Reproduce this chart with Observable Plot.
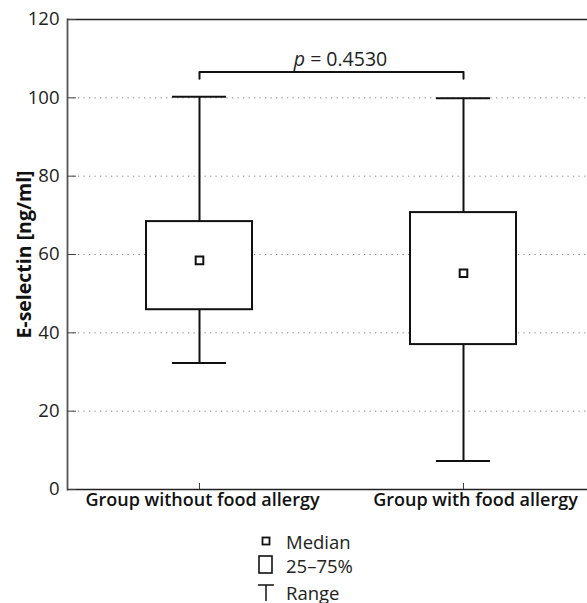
<!DOCTYPE html>
<html>
<head>
<meta charset="utf-8">
<script src="https://cdn.jsdelivr.net/npm/d3@7"></script>
<script src="https://cdn.jsdelivr.net/npm/@observablehq/plot@0.6"></script>
<style>
  html, body { margin: 0; padding: 0; background: #fff; }
  #chart { width: 587px; }
  #legend { position: relative; height: 81px; font-family: "Open Sans", sans-serif; font-size: 18.5px; color: #222; }
  .item { position: absolute; left: 0; display: flex; align-items: center; height: 24px; }
  .item svg { position: absolute; left: 256px; }
  .item span { position: absolute; left: 286px; white-space: nowrap; }
</style>
</head>
<body>
<div id="chart"></div>
<div id="legend"></div>
<script>
// ---- data ----
const groups = ["Group without food allergy", "Group with food allergy"];
const minVals = [32.3, 7.3];
const q1Vals = [45.9, 37.0];
const medianVals = [58.5, 55.2];
const q3Vals = [68.4, 70.7];
const maxVals = [100.3, 99.9];
const yTicks = [0, 20, 40, 60, 80, 100, 120];
const gridTicks = [20, 40, 60, 80, 100];
const bracketX = [groups[0], groups[0], groups[1], groups[1]];
const bracketY = [104.9, 106.6, 106.6, 104.9];
const pLabel = "p = 0.4530";
const pLabelY = 111.6;
const legendLabels = ["Median", "25–75%", "Range"];

const data = groups.map((g, i) => ({
  group: g, min: minVals[i], q1: q1Vals[i], median: medianVals[i], q3: q3Vals[i], max: maxVals[i]
}));
const bracket = bracketX.map((x, i) => ({x, y: bracketY[i]}));

const W = 587, H = 522;
const font = "Open Sans, sans-serif";

const plot = Plot.plot({
  width: W,
  height: H,
  marginLeft: 67,
  marginRight: 0,
  marginTop: 19,
  marginBottom: 33,
  style: {fontFamily: font, fontSize: "18px", color: "#222", background: "white", overflow: "visible"},
  x: {domain: groups, range: [67, 595], paddingInner: 0.6, paddingOuter: 0.3, align: 0.5, label: null, axis: null},
  y: {domain: [0, 120], label: null, axis: null},
  marks: [
    Plot.gridY(gridTicks, {stroke: "#888", strokeOpacity: 1, strokeDasharray: "1.3,4.2", strokeWidth: 1}),
    Plot.ruleY([120], {stroke: "#222", strokeWidth: 1.6}),
    Plot.ruleY([0], {stroke: "#222", strokeWidth: 1.6}),
    Plot.frame({anchor: "left", stroke: "#555", strokeWidth: 1.8}),
    Plot.text(yTicks, {y: d => d, frameAnchor: "left", textAnchor: "end", dx: -8, text: d => String(d), fontSize: "18.5px", fill: "#222"}),
    Plot.axisY(yTicks, {tickSize: -9, text: null, label: null, stroke: "#444"}),
    Plot.axisX({tickSize: -6, text: null, label: null, stroke: "#444"}),
    Plot.text([groups[0]], {frameAnchor: "bottom", text: d => d, x: d => d, dy: 16, dx: 3, fontWeight: 600, fontSize: "18px", fill: "#111"}),
    Plot.text([groups[1]], {frameAnchor: "bottom", text: d => d, x: d => d, dy: 16, dx: 12, fontWeight: 600, fontSize: "18px", fill: "#111"}),
    Plot.text(["E-selectin [ng/ml]"], {frameAnchor: "left", textAnchor: "middle", text: d => d, rotate: -90, dx: -43, fontWeight: 700, fontSize: "19.5px", fill: "#111"}),
    Plot.ruleX(data, {x: "group", y1: "min", y2: "q1", stroke: "#111", strokeWidth: 2}),
    Plot.ruleX(data, {x: "group", y1: "q3", y2: "max", stroke: "#111", strokeWidth: 2}),
    Plot.tickY(data, {x: "group", y: "min", stroke: "#111", strokeWidth: 2, inset: 26}),
    Plot.tickY(data, {x: "group", y: "max", stroke: "#111", strokeWidth: 2, inset: 26}),
    Plot.barY(data, {x: "group", y1: "q1", y2: "q3", fill: "white", stroke: "#111", strokeWidth: 2}),
    Plot.dot(data, {x: "group", y: "median", symbol: "square", r: 4.3, fill: "white", stroke: "#111", strokeWidth: 2}),
    Plot.line(bracket, {x: "x", y: "y", stroke: "#111", strokeWidth: 2}),
    Plot.text([pLabel], {frameAnchor: "top", y: () => pLabelY, text: d => d, dx: 13, fontSize: "19.5px", fill: "#222", className: "plabel"})
  ]
});
document.getElementById("chart").appendChild(plot);

// italic "p"
plot.querySelectorAll("g.plabel text").forEach(t => {
  const s = t.textContent;
  if (s.startsWith("p")) {
    t.textContent = "";
    const a = document.createElementNS("http://www.w3.org/2000/svg", "tspan");
    a.setAttribute("font-style", "italic");
    a.textContent = "p";
    const b = document.createElementNS("http://www.w3.org/2000/svg", "tspan");
    b.textContent = s.slice(1);
    t.appendChild(a); t.appendChild(b);
  }
});

// legend
const legend = document.getElementById("legend");
const icons = [
  '<svg width="20" height="20"><rect x="6.5" y="6.5" width="7" height="7" fill="white" stroke="#111" stroke-width="1.8"/></svg>',
  '<svg width="20" height="22"><rect x="3" y="2" width="13" height="17" fill="white" stroke="#111" stroke-width="1.6"/></svg>',
  '<svg width="20" height="20"><path d="M2 3H18M10 3V19" fill="none" stroke="#111" stroke-width="1.5"/></svg>'
];
const tops = [7, 31, 58];
legendLabels.forEach((lab, i) => {
  const div = document.createElement("div");
  div.className = "item";
  div.style.top = tops[i] + "px";
  div.innerHTML = icons[i] + "<span>" + lab + "</span>";
  legend.appendChild(div);
});
</script>
</body>
</html>
